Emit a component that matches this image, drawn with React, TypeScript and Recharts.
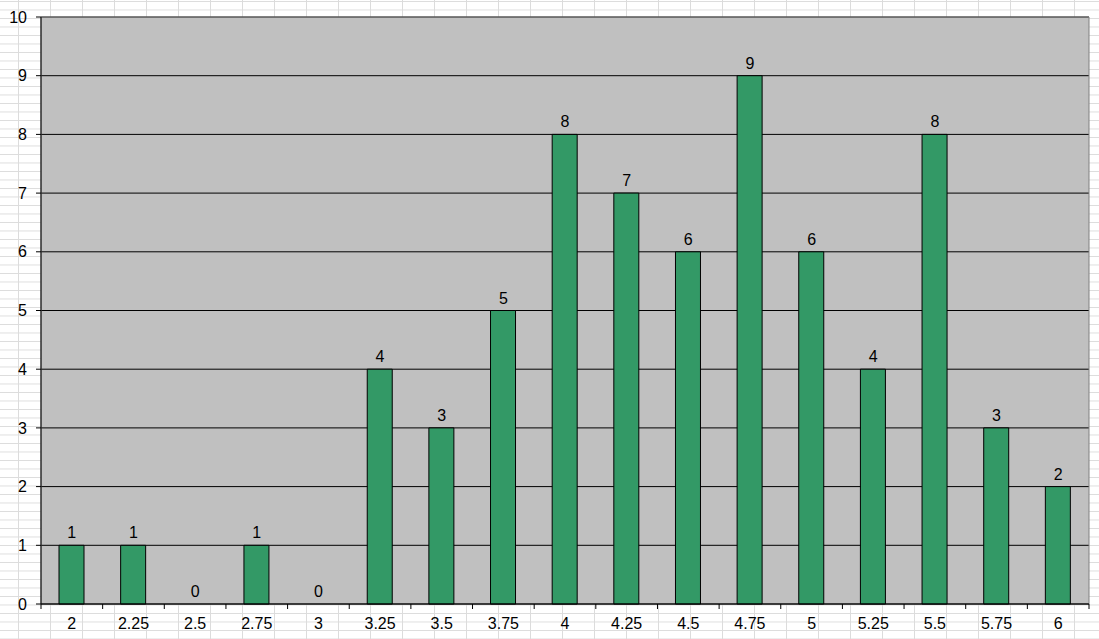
import { ComposedChart, Bar, Line, XAxis, YAxis, CartesianGrid, ReferenceArea, LabelList } from 'recharts';

const categories = ['2', '2.25', '2.5', '2.75', '3', '3.25', '3.5', '3.75', '4', '4.25', '4.5', '4.75', '5', '5.25', '5.5', '5.75', '6'];
const counts = [1, 1, 0, 1, 0, 4, 3, 5, 8, 7, 6, 9, 6, 4, 8, 3, 2];
const yTicks = [0, 1, 2, 3, 4, 5, 6, 7, 8, 9, 10];

const data = categories.map((c, i) => ({ bin: c, count: counts[i] }));

const WIDTH = 1099;
const HEIGHT = 639;
const PLOT_LEFT = 41;
const PLOT_RIGHT = 10;
const BAND = (WIDTH - PLOT_LEFT - PLOT_RIGHT) / categories.length;

const FONT = '"Liberation Sans", Arial, sans-serif';

function XTick(props: any) {
  const { x, y, payload, index } = props;
  return (
    <g>
      {index === 0 && <line x1={x - BAND / 2} x2={x - BAND / 2} y1={y} y2={y + 5} stroke="#000" />}
      <line x1={x + BAND / 2} x2={x + BAND / 2} y1={y} y2={y + 5} stroke="#000" />
      <text x={x} y={y + 25} textAnchor="middle" fontSize={16} fontFamily={FONT} fill="#000">
        {payload.value}
      </text>
    </g>
  );
}

export default function App() {
  return (
    <div
      style={{
        position: 'absolute',
        left: 0,
        top: 0,
        width: WIDTH,
        height: HEIGHT,
        backgroundColor: '#fff',
        backgroundImage:
          'linear-gradient(to right, #dcdcdc 1px, transparent 1px), linear-gradient(to bottom, #dcdcdc 1px, transparent 1px)',
        backgroundSize: '32px 8.5px',
        backgroundPosition: '18px 1px',
      }}
    >
      <ComposedChart
        width={WIDTH}
        height={HEIGHT}
        data={data}
        margin={{ top: 17, right: PLOT_RIGHT, bottom: 0, left: 0 }}
        barSize={25}
        style={{ fontFamily: FONT }}
      >
        <CartesianGrid vertical={false} stroke="#000" fill="#c0c0c0" fillOpacity={1} />
        <XAxis
          dataKey="bin"
          height={35}
          tickSize={0}
          tickMargin={0}
          tickLine={false}
          axisLine={{ stroke: '#000' }}
          tick={XTick}
          interval={0}
        />
        <YAxis
          domain={[0, 10]}
          ticks={yTicks}
          width={41}
          tickSize={5}
          tickMargin={9}
          axisLine={{ stroke: '#000' }}
          tickLine={{ stroke: '#000' }}
          tick={{ fontSize: 16, fill: '#000', fontFamily: FONT }}
          interval={0}
        />
        <ReferenceArea y1={0} y2={10} fill="none" stroke="#808080" strokeWidth={1} ifOverflow="visible" />
        <Bar dataKey="count" fill="#339966" stroke="#000" strokeWidth={1} isAnimationActive={false} />
        {/* invisible line only to carry the value labels, bars of 0 get no label otherwise */}
        <Line dataKey="count" stroke="none" dot={false} activeDot={false} isAnimationActive={false}>
          <LabelList dataKey="count" position="top" offset={7} fill="#000" fontSize={16} fontFamily={FONT} />
        </Line>
      </ComposedChart>
    </div>
  );
}
